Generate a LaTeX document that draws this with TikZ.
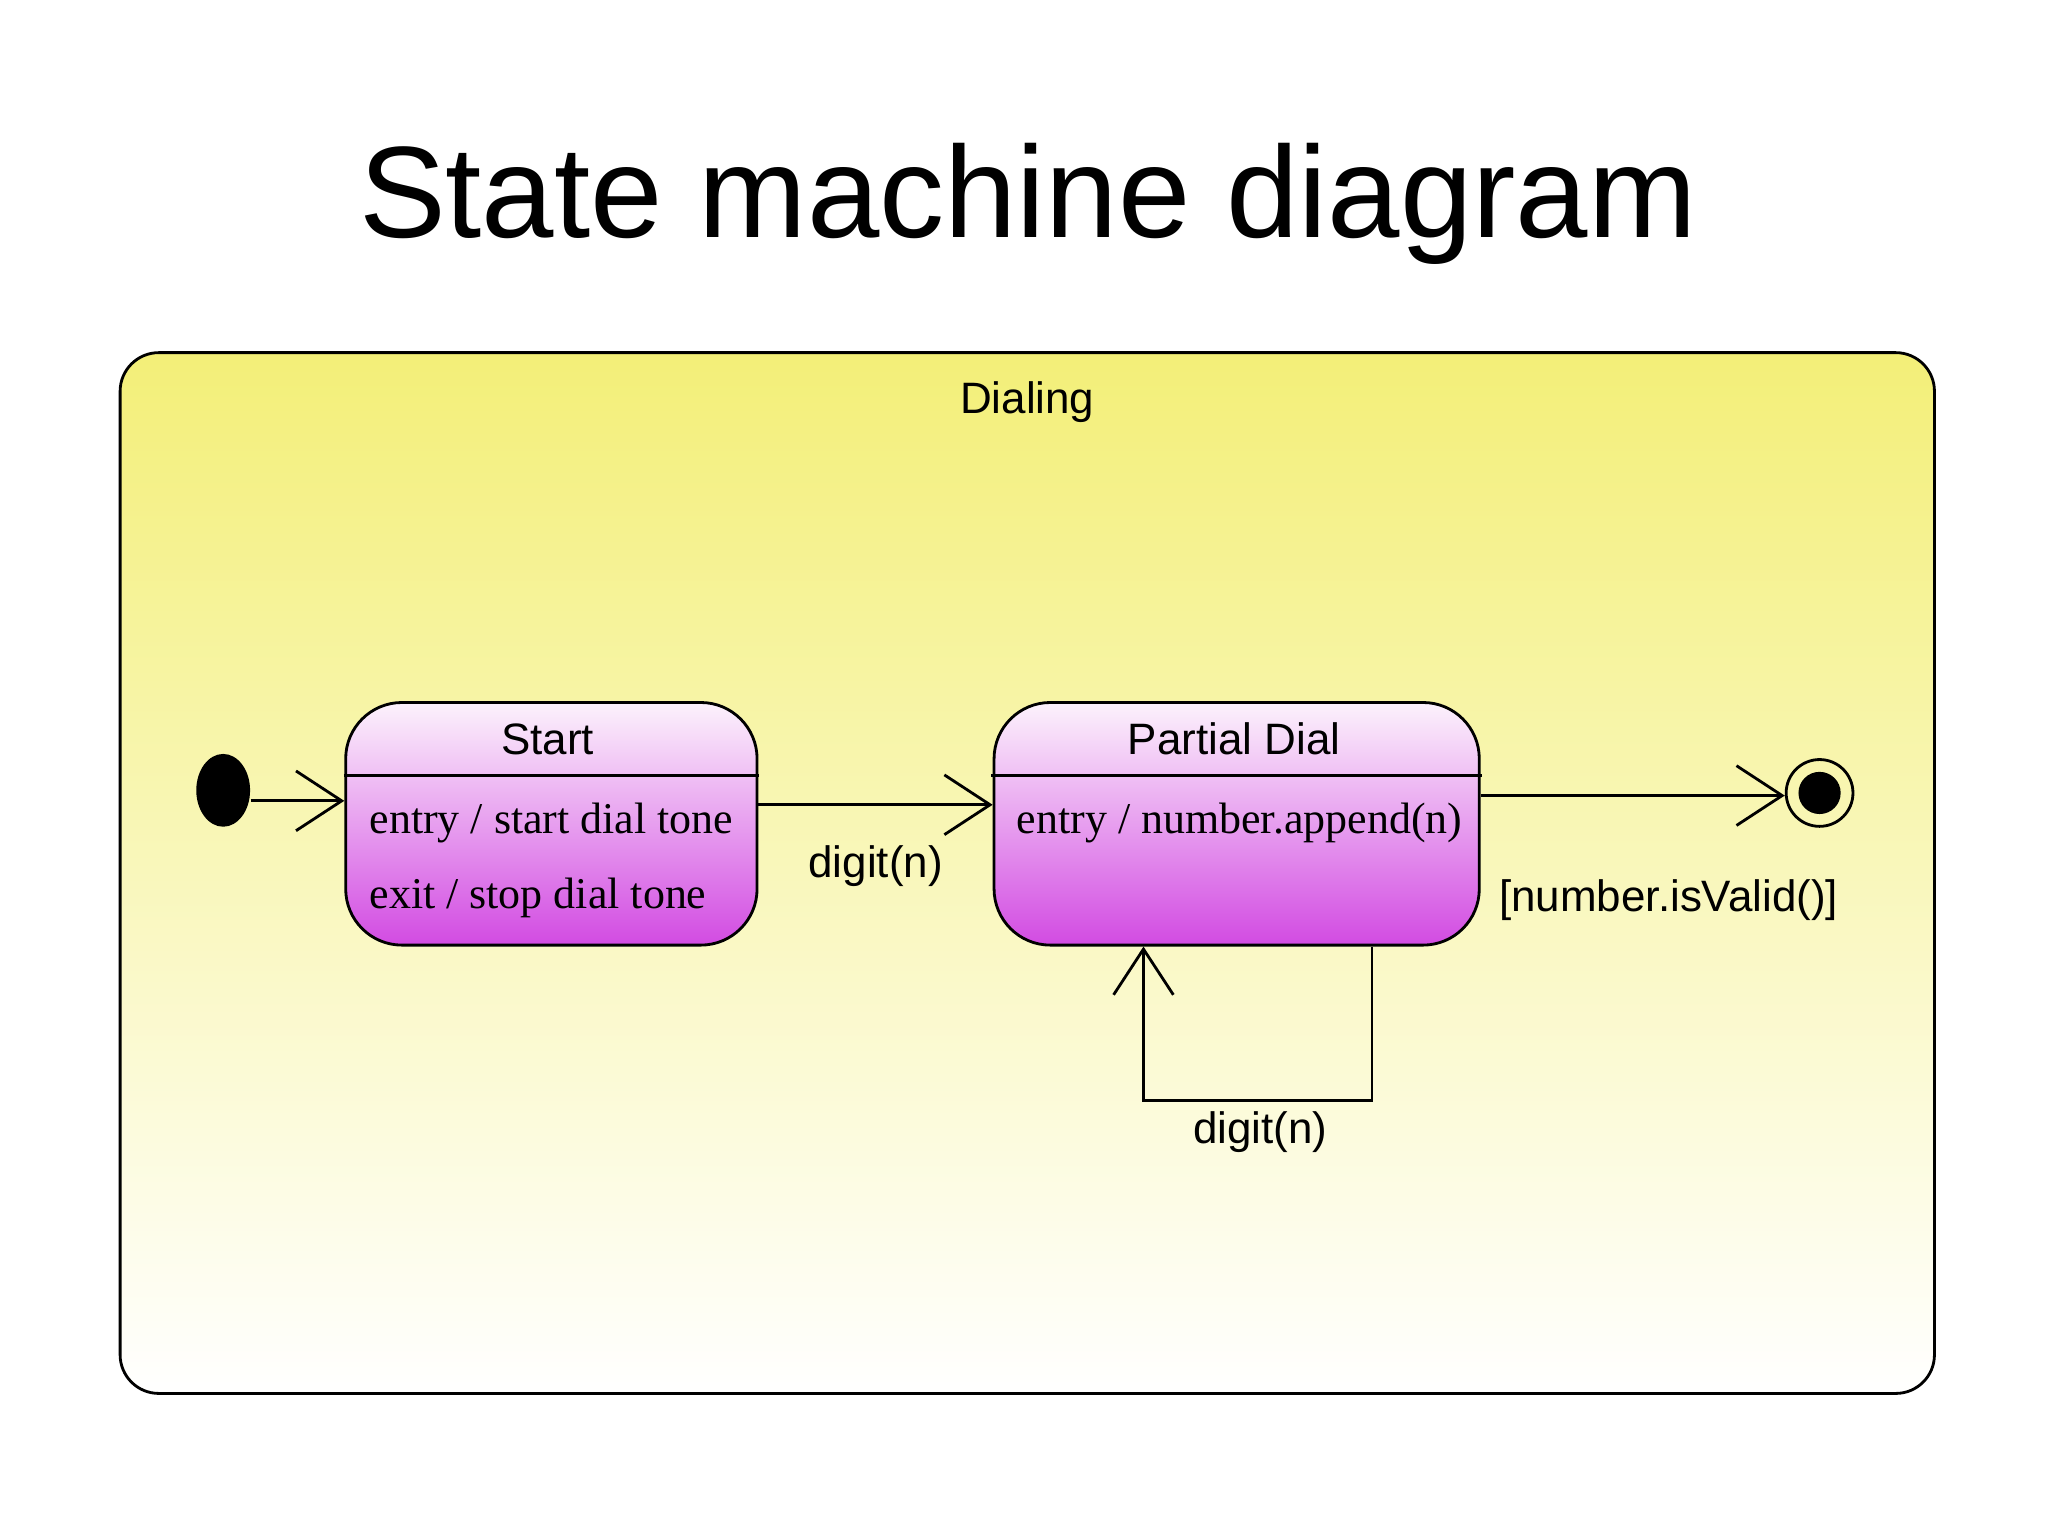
\documentclass[tikz,border=0pt]{standalone}
\usepackage{fontspec}
\setmainfont{Liberation Sans}
\newfontfamily\serifF{Liberation Serif}
\usetikzlibrary{arrows.meta,positioning}

\definecolor{dialTop}{HTML}{F3EF78}
\definecolor{stateTop}{HTML}{FCF2FC}
\definecolor{stateBot}{HTML}{D24BE2}

\tikzstyle{state} = [draw, thick, rounded corners=16pt, top color=stateTop,
                     bottom color=stateBot, minimum height=69pt]
\tikzstyle{trans} = [thick, -{Straight Barb[length=13pt,width=17pt]}]
\tikzstyle{lbl} = [font=\fontsize{12.5}{12.5}\selectfont]
\tikzstyle{act} = [font=\serifF\fontsize{12.5}{12.5}\selectfont, anchor=west]

\begin{document}
\begin{tikzpicture}[x=0.01313cm, y=-0.01313cm]

\useasboundingbox (0,0) rectangle (1560,1170);
\fill[white] (0,0) rectangle (1560,1170);

\node (T) at (783,155) {\fontsize{37}{37}\selectfont State machine diagram};

% composite state
\node[draw, thick, rounded corners=11pt, top color=dialTop, bottom color=white,
      minimum width=516pt, minimum height=296pt, inner sep=0pt]
      (D) at (782.5,665) {};
\node[lbl, below=5pt of D.north] (DL) {Dialing};

% initial and final
\node[circle, fill=black, minimum size=18pt, inner sep=0pt,
      xscale=0.85, yscale=1.15] (I) at (170,602) {};
\node[circle, draw, thick, minimum size=19pt, inner sep=0pt] (F) at (1386,604) {};
\node[circle, fill=black, minimum size=12pt, inner sep=0pt] at (F) {};

% Start
\node[state, minimum width=117pt] (S) at (420,627.5) {};
\coordinate (S1) at (262,591);
\coordinate (S2) at (578,591);
\draw[thick] (S1) -- (S2);
\node[lbl] (SN) at (417,563) {Start};
\node[act] (SE) at (272,627) {entry / start dial tone};
\node[act] (SX) at (272,684) {exit / stop dial tone};

% Partial Dial
\node[state, minimum width=138pt] (P) at (942,627.5) {};
\coordinate (P1) at (755,591);
\coordinate (P2) at (1129,591);
\draw[thick] (P1) -- (P2);
\node[lbl] (PN) at (940,563) {Partial Dial};
\node[act] (PE) at (765,627) {entry / number.append(n)};

% transitions
\draw[trans] (I.east |- 0,610) -- (S.west |- 0,610);
\draw[trans] (S.east |- 0,613) -- (P.west |- 0,613)
      node[lbl, midway, below=8pt] (L1) {digit(n)};
\draw[trans] (P.east |- 0,606) -- (F.west |- 0,606);
\node[lbl] (L2) at (1271,686) {[number.isValid()]};

\coordinate (Q1) at (1045,838);
\coordinate (Q2) at (871,838);
\draw[trans] (P.south -| Q1) -- (Q1) -- (Q2) -- (P.south -| Q2);
\node[lbl] (L3) at (960,862) {digit(n)};

\end{tikzpicture}
\end{document}
